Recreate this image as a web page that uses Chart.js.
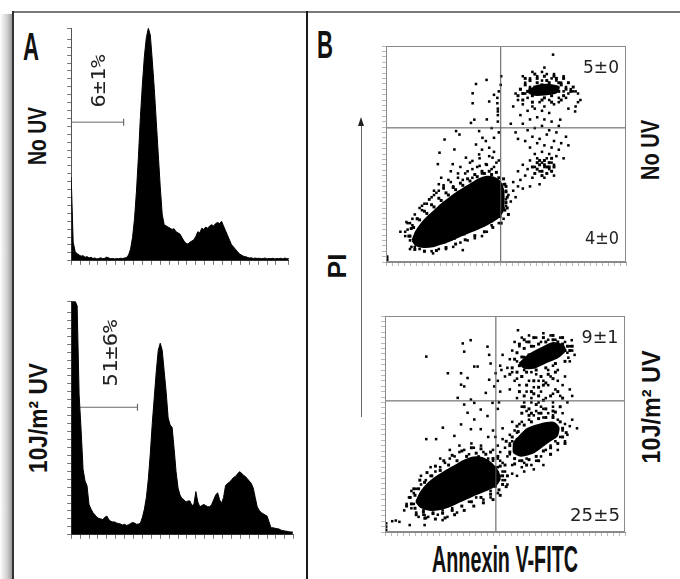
<!DOCTYPE html>
<html><head><meta charset="utf-8">
<script src="https://cdn.jsdelivr.net/npm/chart.js@4/dist/chart.umd.min.js"></script>
<style>
html,body{margin:0;padding:0;background:#fff;}
body{width:680px;height:579px;position:relative;overflow:hidden;}
.abs{position:absolute;}
canvas{position:absolute;}
.lbl{position:absolute;white-space:nowrap;line-height:1;}
</style></head><body>
<div class="abs" style="left:0;top:14px;width:12px;height:565px;background:linear-gradient(to right,#fff,#d0d0d0 60%,#9a9a9a);"></div>
<div class="abs" style="left:12px;top:11px;width:668px;height:2px;background:#7a7a7a;"></div>
<div class="abs" style="left:12px;top:11px;width:2px;height:568px;background:#333;"></div>
<div class="abs" style="left:306px;top:11px;width:2px;height:568px;background:#1a1a1a;"></div>
<div class="abs" style="left:361px;top:124px;width:1px;height:293px;background:#666;"></div>
<div class="abs" style="left:358px;top:117px;width:0;height:0;border-left:3.5px solid transparent;border-right:3.5px solid transparent;border-bottom:9px solid #222;"></div>

<canvas id="h1" width="228" height="243" style="left:66px;top:23px;width:228px;height:243px;"></canvas>
<canvas id="h2" width="233" height="244" style="left:66px;top:296px;width:233px;height:244px;"></canvas>
<canvas id="s1" width="248" height="224" style="left:382px;top:42px;width:248px;height:224px;"></canvas>
<canvas id="s2" width="248" height="224" style="left:381px;top:312px;width:248px;height:224px;"></canvas>

<script>
// ---------- DATA ----------
// Panel A: DNA content histograms (bin width = 2 channels), % of axis height
const histBinWidth = 2;
const noUvHist = [36,8,4,3,2.5,2,2.2,1.5,1.8,1.2,1.5,1,1.2,0.8,1,1.3,0.9,1.1,1.6,1.2,0.9,1,0.8,1,0.9,1.1,1,1.2,1.4,2.5,
  5,10,18,30,45,62,76,88,96,100,97,86,74,60,46,32,20,15.5,15,14.5,14,13.5,13.8,12.5,12,11.5,10,8.5,7.5,7.2,
  8,8.5,9,10.5,12.5,12,14,13.5,14.5,14,15,15.5,15,16,16.5,16,17,15,13,11,9,7,6,5,4,3,2.5,2,1.8,1.5,
  1.2,1.3,1,1.2,1,1.1,0.9,1,1.2,0.8,1,0.9,1.1,0.8,1,0.9,1.1,0.8,1.2,0.9,1];
const uvHist = [100,100,100,98,60,45,28,23,21,13,11,9.5,8.5,7.5,7,6.8,6.5,7.5,8,6.5,5.8,5.5,5.5,5,4.8,4.6,4.2,4.5,4,4.3,
  4.8,5.3,5,4.5,4.6,5,7.5,11,16,24,35,48,59,70,79,82,79,70,61,50,47,46,37,27,20,17,15.5,15,14,14.5,
  14.5,12.5,13,18.5,14,12,12.5,13,12.5,12,12,13,15,17,18,15,13.5,16,21,22,22.5,23.5,24.5,25,26,27,26.5,25.5,25,24,
  23,22,20,16,12,10.5,9.5,9,8.5,8,5.5,3,3,2.8,2.6,2.5,2,1.8,1.6,1.5,1.3,1.2,1.2];
const histMax = [220, 225];
const gateEnd = [53, 67];
const gateLevel = [59.6, 54.6];
const gateLabels = ["6±1%", "51±6%"];

// Panel B: Annexin V-FITC (x) vs PI (y), display units 0-100
const quadX = [47.8, 46.2];
const quadY = [62.1, 60.7];
const quadLabels = [["5±0", "4±0"], ["9±1", "25±5"]];

const noUvCoreMain = [[11,10],[12.5,14],[15,18],[18,21.5],[21,24.5],[24,27.5],[27,30],[30,32.5],[33,34.5],[36,36.5],[39,38.5],[42,39.5],[45,39],[47.5,37],[48.8,33.5],[49,28],[48.6,23.5],[46.5,20.5],[43,18],[39.5,16],[35.5,14.2],[31.5,12.3],[27.5,10.3],[23.5,8.7],[19.5,7.3],[15.5,7],[12.5,7.8],[11,10]];
const noUvCoreLate = [[59,79],[63,81.5],[68,82],[72,81],[71,78.5],[66,77.5],[61,77.5],[59,79]];
const noUvDense = [
[9.5,12],[10.5,15.5],[13,20],[16,23.5],[19,26.5],[22,29.5],[25,32],[28,34.5],[31,36.5],[34,38.5],[37,40.5],[40,42],[43,42],[46,41.5],
[48,18],[44.5,16],[41,14],[37,12.2],[33,10.3],[29,8.3],[25,6.7],[21,5.3],[16,5],[12,5.8],[50.5,25],[50.5,30],[50,35],[49,38.5],[51,22],
[10,12],[11.5,16],[14,19.5],[17,22.5],[20,25.5],[23,28.5],[26,31],[29,33.5],[32,35.5],[35,37.5],[38,39.5],[41,41],[44,40.5],[47,39],[49.5,36],[50,32.5],[50,27.5],[49.5,24],[47.5,21],[44,19],[40.5,17],[36.5,15],[32.5,13],[28.5,11],[24.5,9.3],[20.5,8],[16.5,7.8],[13,8.6],
[55,77],[56,80],[57,78],[58,82],[59,79],[60,84],[61,77],[62,81],[63,85],[64,78],[65,82],[66,86],[67,79],[68,83],[69,77],[70,81],[71,85],[72,79],[73,82],[74,77],[75,80],[76,83],[58,85],[62,87],[66,76],[70,86],[74,85],[57,75],[61,74],[65,75],[69,74],[73,75],[77,79],[78,81],[64,80],[68,80],[60,80],[72,83],[67,84],[63,83],
[62,41],[63,43],[64,45],[65,42],[66,47],[67,44],[68,46],[69,42],[65,40],[63,46],[67,41],[69,48],[66,45],[64,47],[68,44],[61,44],[70,44]
];
const noUvDots = [
[8,14],[10,18],[12,22],[15,26],[18,29],[21,32],[24,34.5],[27,37],[30,39],[33,41],[36,43],[39,44.5],[42,45],[45,44],
[20,33],[22,36],[24,34],[26,38],[28,35],[30,41],[32,38],[34,42],[36,39],[38,44],[40,41],[42,45],[44,43],[46,46],[23,39],[27,42],[31,44],[35,46],[39,48],[43,49],[47,47],[19,30],[17,27],[15,24],[13,20],[11,17],
[8,12],[9,15],[10,10],[9,18],[11,20],[12,7],[10,6],[14,25],[16,27],[18,29],[20,31],[22,33],[24,35.5],[14,6],[16,5],[19,5],[22,6],[25,6],[28,7],[31,9],[34,10],[37,11],[40,12],[42,14],[44,17],[47,18],[49,20],[50,26],[50,33],[49,36],
[0.5,0.5],[0.5,1.5],[0.5,2.5],[19.6,4],[10.6,7],[32,5.5],[8.5,18.5],[6,14],
[49,25],[50,29],[51,31],[52,28],[53,33],[54,30],[55,35],[53,37],[56,38],[57,34],[58,40],[55,42],[57,45],[59,43],[60,47],[61,39],[62,44],[63,48],[64,42],[65,46],[66,44],[67,48],[68,43],[69,46],[70,45],[71,49],[68,50],[65,51],[62,50],[60,53],[63,55],[66,54],[69,53],[72,52],[58,56],[61,58],[64,57],[67,59],[70,56],[73,55],[59,61],[62,62],[65,63],[68,61],[71,60],[57,64],[60,66],[63,67],[66,66],[69,65],[72,63],[75,58],[56,68],[59,70],[62,71],[65,70],[68,69],[54,60],[52,64],[55,57],[74,48],[76,54],[64,36],[60,35],[66,39],[70,40],
[53,72],[55,75],[54,78],[56,80],[57,73],[58,83],[59,76],[60,85],[61,72],[62,79],[63,86],[64,74],[65,84],[66,72],[67,87],[68,75],[69,85],[70,73],[71,84],[72,76],[73,83],[74,79],[75,81],[76,78],[77,80],[78,79],[79,79],[80,78],[57,86],[61,88],[65,88],[70,87],[74,86],[66,90],[72,74],[60,81],[58,78],[75,76],[81,75],[79,72],[76,71],[69.6,96],[80,74],[78.8,69.7],[72.6,65.9],
[37.5,82.4],[41.9,84.3],[36.1,78.1],[36.1,73.5],[43,74.3],[45,77.4],[46.4,76],[46.4,73.5],[46.6,71],[46.6,69.7],[46.6,68],[46.6,65],[36.8,65.9],[35.4,64.4],[29.2,60.6],[24.4,56.7],[30.6,59],[38.8,60.6],[40.2,57.5],[37.5,54.4],[41.6,56],[43,52.9],[45,57.5],[28.5,52.1],[21.6,45.3],[22.3,50.6],[33.3,48.3],[27.8,45.3],[36,46.8],[38.8,49.8],[41.6,45.3],[44.4,48.3],[48,86],[47.8,82],[47,79],[44,62],[42,66],[47,60],[45,51],[40,52]
];

const uvCoreMain = [[13,14],[15,18.5],[18,22.5],[21.5,25.5],[25,28],[29,30.5],[33,33],[37,34.5],[41,34],[44.5,31.5],[47,28],[47.8,24.5],[46,21.5],[42.5,19.5],[38.5,17.8],[34.5,15.8],[30.5,13.8],[26.5,11.8],[22.5,10.5],[18.5,10.3],[15,11.5],[13,14]];
const uvCoreEarly = [[53.7,41.4],[59.2,47.6],[64.7,49.8],[70.2,50.6],[72.3,48.3],[71.6,44.5],[67.5,41.4],[62.0,36.9],[56.5,35.3],[53.7,36.9],[53.7,41.4]];
const uvCoreLate = [[56,78],[60,82],[65,85],[70,87.5],[74,86.5],[75,84],[72,81],[67,78.5],[62,76],[58,76],[56,78]];
const uvDense = [
[11,13],[12.5,17],[14,20],[16.5,23],[19.5,26],[23,28.5],[26.5,31],[30,33],[34,35],[38,36.5],[42,36],[45,34],[48,30.5],[49,26],[49,22],[47.5,19.5],[44,17.5],[40,16],[36,14],[32,12],[28,10],[24,8.7],[20,8.5],[16,9.3],[12.5,11],
[9,12],[10.5,16],[12,20],[14.5,24],[17.5,27.5],[21,30.5],[24.5,33],[28,35.5],[32,37.5],[36,39],[40,38.5],[44,37],[47,35],[50,31],[51,26],[50.5,21],[48,17],[45,15],[41,13.5],[37,12],[33,10],[29,8],[25,6.5],[21,6],[17,6.5],[13,8],
[52,40],[53,44],[55.5,46.5],[58,49.5],[61,51],[64,52.5],[67,53],[70,53],[73,51],[74,48],[74,44],[72,41],[69,39],[66,37.5],[63,35],[60,33.5],[57,33],[54,34],[52,37],[50.5,42],[55,49],[60,54],[65,55],[71,55.5],[75.5,46],[75,41],[69,36],[64,33],[59,31],[54,31.5],
[53,76],[54,80],[55,83],[56,77],[57,81],[58,85],[59,78],[60,82],[61,86],[62,79],[63,83],[64,87],[65,80],[66,84],[67,88],[68,81],[69,85],[70,89],[71,82],[72,86],[73,83],[74,87],[75,84],[76,86],[77,84],[58,89],[62,90],[66,90],[70,91],[74,90],[55,74],[59,74],[63,75],[67,76],[71,78],[75,79],[78,86],[60,88],[64,82],[68,84],[72,88],[56,87],[52,73],[57,72],
[57,55],[60,57],[63,59],[66,61],[69,63],[72,65],[58,63],[61,65],[64,67],[67,69],[70,71],[59,68],[62,70],[65,72],[68,73],[71,74],[56,65],[74,62],[73,58],[70,56],[67,57],[64,63],[61,55],[58,58],[62,64],[66,68]
];
const uvDots = [
[8,10],[9,13],[10,16],[11,11],[12,18],[13,9],[13,20],[14,14],[15,22],[16,10],[17,24],[18,12],[19,26],[20,9],[21,28],[22,11],[23,30],[24,10],[25,32],[26,12],[27,34],[28,11],[29,35],[30,14],[31,37],[32,15],[33,38],[34,17],[35,36],[36,18],[37,39],[38,19],[39,35],[40,20],[41,37],[42,21],[43,34],[44,19],[45,33],[46,21],[47,30],[48,26],[49,28],[47,18],[44,16],[41,15],[38,16],[35,14],[30,9],[26,7],[22,8],[18,7],[16,8],[14,7],[12,13],[11,19],[15,26],[19,30],[23,34],[27,38],[31,40],[36,41],[40,40],[50,24],[48,33],
[3,5],[4.5,5.3],[6,4.7],[10.3,3.2],[16.5,7.8],[16.5,6.3],[16.5,3.2],[24,5.5],[0.5,1],[0.5,2.5],[0.5,4],
[46,30],[47,34],[48,37],[49,32],[50,39],[51,35],[52,41],[53,31],[54,38],[55,43],[56,33],[57,30],[52,45],[49,43],[47,40],[45,38],[50,28],[53,27],[55,26],[58,32],[49,24],[51,22],[46,44],[54,47],[57,51],[53,51],[49,48],[45,47],[43,44],
[52,36],[53,42],[55,46],[56,50],[58,38],[59,34],[60,52],[61,31],[62,54],[63,33],[64,55],[65,35],[66,53],[67,38],[68,55],[69,40],[70,54],[71,42],[72,52],[73,44],[74,47],[75,50],[76,45],[77,49],[72,38],[69,36],[75,42],[66,31],[62,29],[58,28],[59,56],[57,58],[61,60],[65,58],[70,58],[74,55],[78,52],[80,48],
[55,62],[56,68],[57,72],[58,60],[59,65],[60,70],[61,62],[62,67],[63,73],[64,60],[65,65],[66,70],[67,62],[68,68],[69,72],[70,60],[71,66],[72,70],[73,63],[74,68],[75,72],[66,57],[63,56],[70,64],[64,70],[61,74],[68,75],[72,75],[58,75],[54,70],[52,66],[53,74],[76,60],[77,66],[78,63],
[50,72],[51,76],[52,80],[53,84],[54,88],[55,79],[56,86],[57,90],[58,81],[59,88],[60,91],[61,79],[62,86],[63,90],[64,78],[65,88],[66,92],[67,80],[68,89],[69,91],[70,82],[71,89],[72,85],[73,90],[74,84],[75,88],[76,83],[77,86],[78,84],[79,82],[77,79],[48,77],[49,82],[55,71],[60,77],[70,77],[77.8,88.8],[55.4,93.4],[76.4,80.7],
[17.2,81.2],[32.4,87.3],[35.7,88.8],[33,83.5],[37.2,76.6],[38.6,76.6],[31.7,73.5],[34.4,71.3],[42.7,85.8],[43.4,82],[44,78],[31.7,68.2],[33,67.4],[30.3,62.1],[35.8,61.3],[37.2,59.8],[33,59],[26.2,73.5],[24.1,48.3],[21.3,43],[17.2,43],[31.7,49.8],[34.4,55.2],[37.2,52.1],[39.9,56.7],[42.7,53.7],[28.9,44.5],[35.8,47.6],[39.9,47.6],[43.4,70.5],[42,64.4],[44.8,59.8],[45.5,67.4],[46.1,73.5],[47.5,60],[48,65],[47,70],[48.5,75],[47,57]
];

// ---------- CHARTS ----------
const common = {animation:false, responsive:false, events:[], plugins:{legend:{display:false}, tooltip:{enabled:false}}};
const toXY = a => a.map(p => ({x:p[0], y:p[1]}));

function histChart(id, vals, k) {
  new Chart(document.getElementById(id), {
    type:'line',
    data:{datasets:[
      {data: vals.map((v,i)=>({x:i*histBinWidth, y:v})), fill:'origin', backgroundColor:'#000', borderColor:'#000', borderWidth:1, pointRadius:0, order:0},
      {data:[{x:0,y:gateLevel[k]},{x:gateEnd[k],y:gateLevel[k]}], borderColor:'#6a6a6a', borderWidth:1, fill:false,
       pointRadius:[0,3.5], pointStyle:'line', rotation:90, pointBorderColor:'#6a6a6a', pointBorderWidth:1.2, order:1}
    ]},
    options:Object.assign({}, common, {
      layout:{padding:{top:2,right:4,left:0,bottom:0}},
      scales:{
        x:{type:'linear', min:0, max:histMax[k], ticks:{display:false, stepSize:9, maxTicksLimit:1000},
           grid:{drawOnChartArea:false, tickLength:4, color:'#777'}, border:{color:'#555'}},
        y:{type:'linear', min:0, max:100, ticks:{display:false, stepSize:3.4, maxTicksLimit:1000},
           grid:{drawOnChartArea:false, tickLength:4, color:'#777'}, border:{color:'#555'}}
      }
    })
  });
}

const boxPlugin = {id:'box', afterDatasetsDraw(chart){
  const {ctx, chartArea:a} = chart; ctx.save(); ctx.strokeStyle='#8a8a8a'; ctx.lineWidth=1;
  ctx.strokeRect(a.left+0.5, a.top+0.5, a.right-a.left-1, a.bottom-a.top-1); ctx.restore(); }};

function scatterChart(id, cores, dense, dots, k) {
  const ds = [
    {data:[{x:quadX[k],y:0},{x:quadX[k],y:100}], borderColor:'#555', borderWidth:1, pointRadius:0, fill:false, order:0},
    {data:[{x:0,y:quadY[k]},{x:100,y:quadY[k]}], borderColor:'#555', borderWidth:1, pointRadius:0, fill:false, order:0},
    {data:toXY(dots), showLine:false, pointStyle:'rect', pointRadius:1.8, pointBackgroundColor:'#000', pointBorderWidth:0, order:1},
    {data:toXY(dense), showLine:false, pointStyle:'rect', pointRadius:2.1, pointBackgroundColor:'#000', pointBorderWidth:0, order:1}
  ];
  cores.forEach(c => ds.push({data:toXY(c), fill:'shape', tension:0.2, backgroundColor:'#000', borderColor:'#000', borderWidth:2, pointRadius:0, order:2}));
  new Chart(document.getElementById(id), {
    type:'line',
    data:{datasets:ds},
    options:Object.assign({}, common, {
      layout:{padding:{top:2,right:2,left:0,bottom:0}},
      scales:{
        x:{type:'linear', min:0, max:100, ticks:{display:false, stepSize:2.5, maxTicksLimit:1000},
           grid:{drawOnChartArea:false, tickLength:4, color:'#bbb'}, border:{color:'#8a8a8a'}},
        y:{type:'linear', min:0, max:100, ticks:{display:false, stepSize:2.5, maxTicksLimit:1000},
           grid:{drawOnChartArea:false, tickLength:4, color:'#bbb'}, border:{color:'#8a8a8a'}}
      }
    }),
    plugins:[boxPlugin]
  });
}

histChart('h1', noUvHist, 0);
histChart('h2', uvHist, 1);
scatterChart('s1', [noUvCoreMain, noUvCoreLate], noUvDense, noUvDots, 0);
scatterChart('s2', [uvCoreMain, uvCoreEarly, uvCoreLate], uvDense, uvDots, 1);

// ---------- TEXT ----------
const mctx = document.createElement('canvas').getContext('2d');
function addLabel(text, cx, cy, family, weight, size, targetLen, rot, color) {
  const font = `${weight} ${size}px ${family}`;
  mctx.font = font;
  const w = mctx.measureText(text).width;
  const sx = targetLen ? targetLen / w : 1;
  const el = document.createElement('div');
  el.className = 'lbl';
  el.textContent = text;
  el.style.font = font;
  el.style.lineHeight = '1';
  el.style.color = color;
  el.style.left = cx + 'px';
  el.style.top = cy + 'px';
  el.style.transform = `translate(-50%,-50%) rotate(${rot}deg) scaleX(${sx})`;
  document.body.appendChild(el);
}
const COND = '"Liberation Sans", Arial, sans-serif';
const MONO = '"DejaVu Sans Mono", monospace';
const SANS = '"DejaVu Sans", sans-serif';
addLabel('A', 31, 46, COND, 700, 39, 16, 0, '#111');
addLabel('B', 325, 44, COND, 700, 39, 16, 0, '#111');
addLabel('No UV', 37, 136, COND, 700, 25, 58, -90, '#111');
addLabel('10J/m² UV', 38, 418, COND, 700, 25, 110, -90, '#111');
addLabel('No UV', 650, 150, COND, 700, 25, 60, -90, '#111');
addLabel('10J/m² UV', 651, 407, COND, 700, 25, 113, -90, '#111');
addLabel('PI', 337, 266, COND, 700, 26, 25, -90, '#111');
addLabel('Annexin V-FITC', 505, 560, COND, 700, 36, 146, 0, '#111');
addLabel(gateLabels[0], 98, 81, MONO, 400, 20, 53, -90, '#222');
addLabel(gateLabels[1], 110, 353, MONO, 400, 20, 67, -90, '#222');
addLabel(quadLabels[0][0], 601, 67, SANS, 400, 18, 36, 0, '#222');
addLabel(quadLabels[0][1], 602, 238, SANS, 400, 18, 34, 0, '#222');
addLabel(quadLabels[1][0], 600, 337, SANS, 400, 18, 37, 0, '#222');
addLabel(quadLabels[1][1], 595, 515, SANS, 400, 18, 50, 0, '#222');
</script>
</body></html>
